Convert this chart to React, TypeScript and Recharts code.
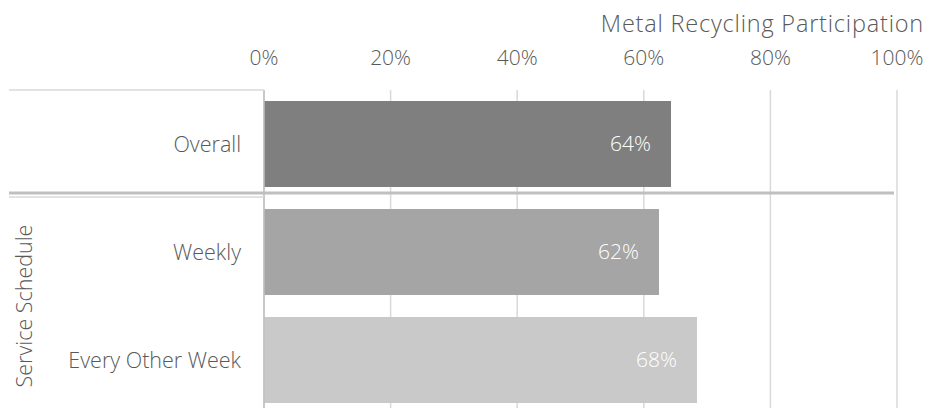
import { BarChart, Bar, XAxis, YAxis, CartesianGrid, Cell, LabelList } from "recharts"

// categories and values (percent)
const categories = ["Overall", "Weekly", "Every Other Week"]
const participation = [64.3, 62.4, 68.4]
const barColors = ["#7f7f7f", "#a5a5a5", "#c9c9c9"]
const xTicks = [0, 20, 40, 60, 80, 100]
const groupLabel = "Service Schedule"
const chartTitle = "Metal Recycling Participation"

const data = categories.map((name, i) => ({ name, value: participation[i] }))

// layout
const W = 928
const H = 414
const PLOT_TOP = 90
const PLOT_LEFT = 264
const PLOT_RIGHT = 31
const PLOT_H = H - PLOT_TOP
const BAND = PLOT_H / categories.length
const FONT = "'Open Sans', Roboto, sans-serif"
const TEXT = "#595959"
const FS = 21

const App = () => {
  const sepY = PLOT_TOP + BAND - 5

  return (
    <div style={{ position: "absolute", top: 0, left: 0, width: W, height: 408, overflow: "hidden", background: "#fff" }}>
      <BarChart
        width={W}
        height={H}
        data={data}
        layout="vertical"
        margin={{ top: 40, right: PLOT_RIGHT, left: 0, bottom: 0 }}
        barSize={86}
        style={{ fontFamily: FONT, fontWeight: 300 }}
      >
        <CartesianGrid horizontal={false} stroke="#d9d9d9" strokeWidth={1.5} />
        <XAxis
          type="number"
          orientation="top"
          domain={[0, 100]}
          ticks={xTicks}
          tickFormatter={(v) => `${v}%`}
          axisLine={false}
          tickLine={false}
          tickSize={0}
          tickMargin={25}
          height={PLOT_TOP - 40}
          tick={{ fill: TEXT, fontSize: FS }}
        />
        <YAxis
          type="category"
          dataKey="name"
          width={PLOT_LEFT}
          axisLine={{ stroke: "#bfbfbf", strokeWidth: 1.5 }}
          tickLine={false}
          tickSize={0}
          tickMargin={23}
          tick={{ fill: TEXT, fontSize: 21.5 }}
        />
        <Bar dataKey="value" isAnimationActive={false}>
          {data.map((d, i) => (
            <Cell key={d.name} fill={barColors[i]} />
          ))}
          <LabelList
            dataKey="value"
            position="insideRight"
            offset={20}
            formatter={(v: any) => `${Math.round(v)}%`}
            style={{ fill: "#ffffff", fontSize: FS, fontFamily: FONT }}
          />
        </Bar>
      </BarChart>

      {/* multi-level category axis decorations and title */}
      <svg width={W} height={408} style={{ position: "absolute", top: 0, left: 0, pointerEvents: "none" }}>
        <line x1={9} x2={PLOT_LEFT} y1={PLOT_TOP} y2={PLOT_TOP} stroke="#d9d9d9" strokeWidth={1.5} />
        <line x1={9} x2={W - PLOT_RIGHT - 3} y1={sepY} y2={sepY} stroke="#bfbfbf" strokeWidth={3} />
        <line x1={9} x2={PLOT_LEFT} y1={sepY + 4} y2={sepY + 4} stroke="#d9d9d9" strokeWidth={1.5} />
        <text
          x={23}
          y={PLOT_TOP + BAND + BAND}
          transform={`rotate(-90 23 ${PLOT_TOP + BAND + BAND})`}
          textAnchor="middle"
          dominantBaseline="central"
          fill={TEXT}
          fontSize={21.5}
          fontFamily={FONT}
          fontWeight={300}
        >
          {groupLabel}
        </text>
        <text
          x={924}
          y={32}
          textAnchor="end"
          fill={TEXT}
          fontSize={23.5}
          fontFamily={FONT}
          fontWeight={300}
          letterSpacing={0.8}
        >
          {chartTitle}
        </text>
      </svg>
    </div>
  )
}

export default App
